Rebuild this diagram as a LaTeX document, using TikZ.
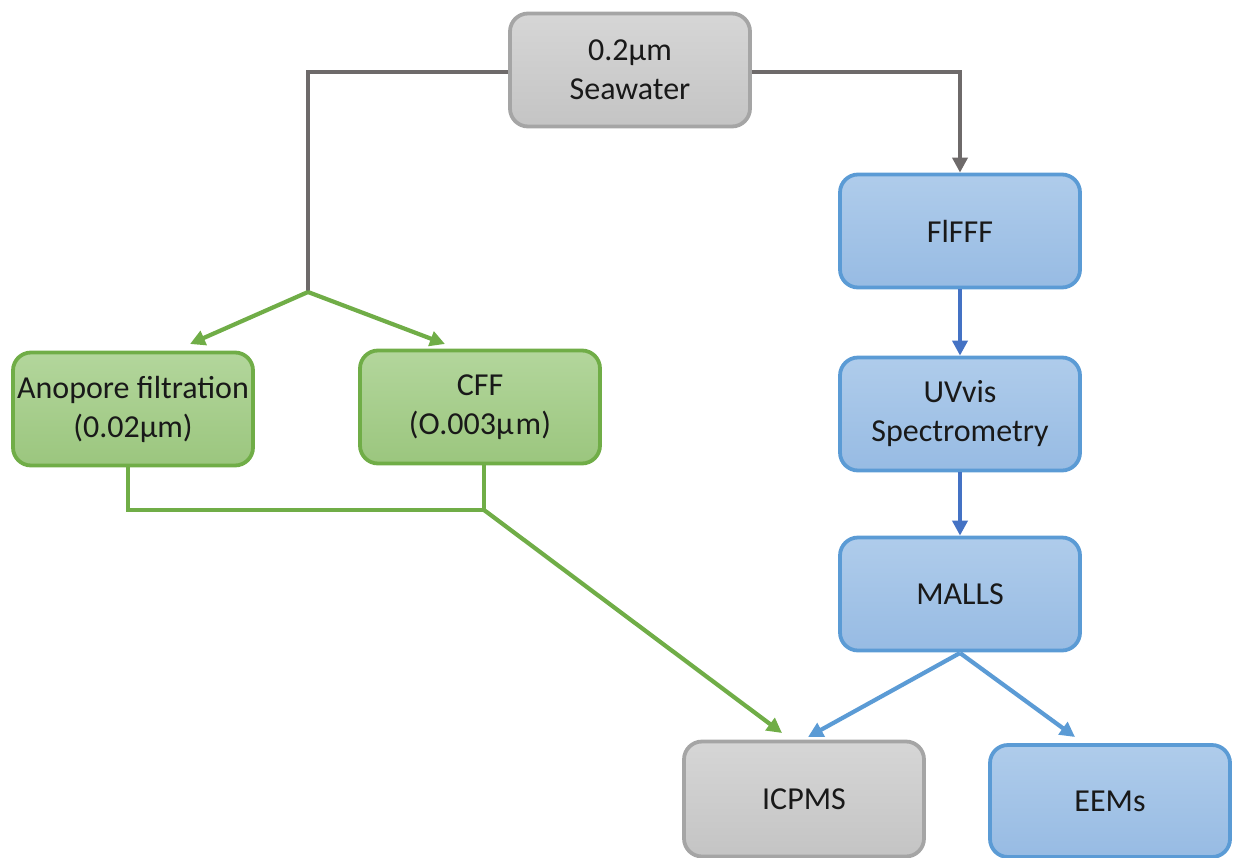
\documentclass[tikz,border=0pt]{standalone}
\usepackage{fontspec}
\setmainfont{Carlito}
\usetikzlibrary{arrows.meta}
\definecolor{gfill1}{HTML}{B3D69C}
\definecolor{gfill2}{HTML}{9BC67E}
\definecolor{gborder}{HTML}{70AD47}
\definecolor{bfill1}{HTML}{AFCCEB}
\definecolor{bfill2}{HTML}{97BBE3}
\definecolor{bborder}{HTML}{5B9BD5}
\definecolor{barrow}{HTML}{4472C4}
\definecolor{yfill1}{HTML}{D6D6D6}
\definecolor{yfill2}{HTML}{C4C4C4}
\definecolor{yborder}{HTML}{A5A5A5}
\definecolor{yline}{HTML}{6E6A6A}
\tikzset{
  box/.style={rounded corners=18pt, line width=3.8pt, minimum width=240pt, minimum height=113pt,
    align=center, inner sep=0pt, font=\fontsize{32}{39}\selectfont, text=black!90},
  gbox/.style={box, draw=gborder, top color=gfill1, bottom color=gfill2},
  bbox/.style={box, draw=bborder, top color=bfill1, bottom color=bfill2},
  ybox/.style={box, draw=yborder, top color=yfill1, bottom color=yfill2},
  tip/.style={-{Triangle[length=15pt,width=15pt]}},
  gline/.style={draw=gborder, line width=4.2pt},
  bline/.style={draw=bborder, line width=4.2pt},
  yconn/.style={draw=yline, line width=4.2pt},
}
\begin{document}
\begin{tikzpicture}[x=1pt,y=-1pt]
\useasboundingbox (0,0) rectangle (1233,857);
\node[ybox] (sea) at (630,70) {0.2µm\\Seawater};
\node[bbox] (fl) at (960,231) {FlFFF};
\node[bbox] (uv) at (960,414) {UVvis\\Spectrometry};
\node[bbox] (ma) at (960,594) {MALLS};
\node[gbox] (an) at (133,409) {Anopore filtration\\(0.02µm)};
\node[gbox] (cf) at (480,407) {CFF\\(O.003µ\kern2pt m)};
\node[ybox, minimum height=115pt] (ic) at (804,799) {ICPMS};
\node[bbox, minimum height=112pt] (ee) at (1110,801) {EEMs};
\coordinate (j1) at (308,292);
\coordinate (j2) at (484,510);
\coordinate (ta) at (190,344);
\coordinate (tc) at (445,344);
\coordinate (ti) at (782,733);
\coordinate (mb) at (960,653);
\coordinate (ti2) at (808,737);
\coordinate (te) at (1075,737);
% gray connectors
\draw[yconn] (sea.west |- 0,72) -| (j1);
\draw[yconn, tip] (sea.east |- 0,72) -| (fl.north);
% green connectors
\draw[gline, tip] (j1) -- (ta);
\draw[gline, tip] (j1) -- (tc);
\draw[gline] (an.south -| 128,0) |- (j2);
\draw[gline] (cf.south -| 484,0) -- (j2);
\draw[gline, tip] (j2) -- (ti);
% blue connectors
\draw[draw=barrow, line width=4.2pt, tip] (fl.south) -- (uv.north);
\draw[draw=barrow, line width=4.2pt, tip] (uv.south) -- (ma.north);
\draw[bline, tip] (mb) -- (ti2);
\draw[bline, tip] (mb) -- (te);
\end{tikzpicture}
\end{document}
